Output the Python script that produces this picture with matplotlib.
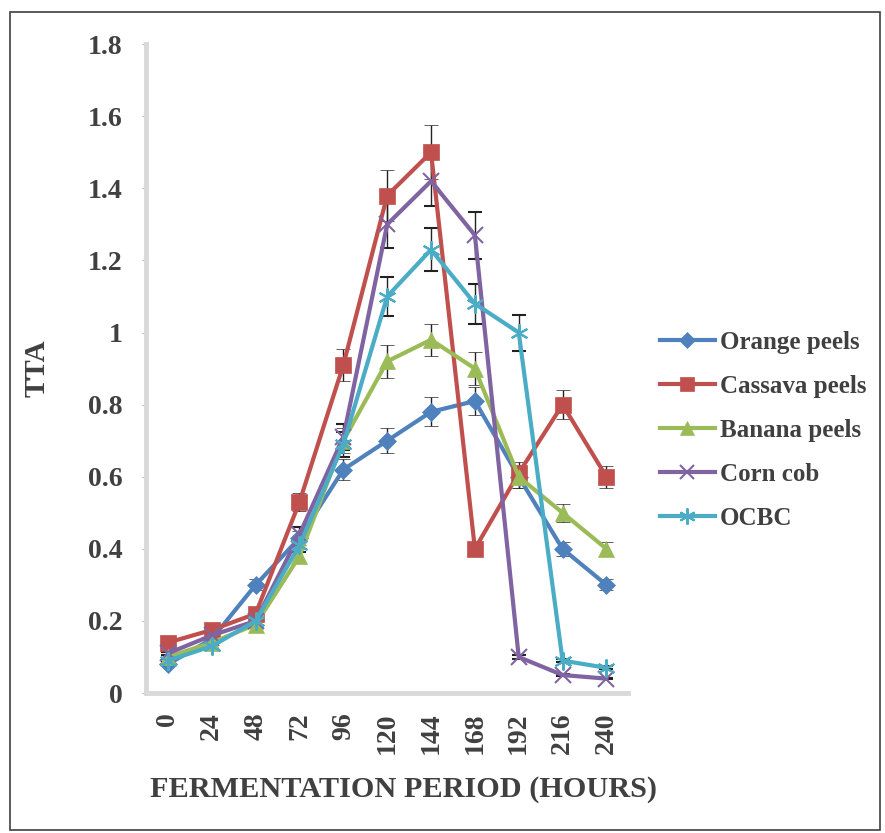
import numpy as np
import matplotlib
matplotlib.use("Agg")
import matplotlib.pyplot as plt
from matplotlib.patches import Rectangle

# fermentation time points (hours)
hours = ["0", "24", "48", "72", "96", "120", "144", "168", "192", "216", "240"]

orange = [0.08, 0.15, 0.30, 0.43, 0.62, 0.70, 0.78, 0.81, 0.60, 0.40, 0.30]
cassava = [0.14, 0.175, 0.22, 0.53, 0.91, 1.38, 1.50, 0.40, 0.61, 0.80, 0.60]
banana = [0.10, 0.14, 0.19, 0.38, 0.70, 0.92, 0.98, 0.90, 0.60, 0.50, 0.40]
corn = [0.11, 0.16, 0.20, 0.44, 0.71, 1.30, 1.42, 1.27, 0.10, 0.05, 0.04]
ocbc = [0.09, 0.13, 0.20, 0.41, 0.69, 1.10, 1.23, 1.08, 1.00, 0.09, 0.07]

orange_err = [0.005, 0.008, 0.015, 0.02, 0.03, 0.035, 0.04, 0.04, 0.03, 0.02, 0.015]
cassava_err = [0.007, 0.009, 0.011, 0.025, 0.045, 0.07, 0.075, 0.02, 0.03, 0.04, 0.03]
banana_err = [0.005, 0.007, 0.01, 0.02, 0.035, 0.045, 0.045, 0.045, 0.03, 0.025, 0.02]
corn_err = [0.005, 0.008, 0.01, 0.02, 0.035, 0.065, 0.07, 0.065, 0.005, 0.003, 0.002]
ocbc_err = [0.005, 0.007, 0.01, 0.02, 0.035, 0.055, 0.06, 0.055, 0.05, 0.005, 0.004]

names = ["Orange peels", "Cassava peels", "Banana peels", "Corn cob", "OCBC"]
colors = ["#4F81BD", "#C0504D", "#9BBB59", "#8064A2", "#4BACC6"]
markers = ["D", "s", "^", "x", (6, 2, 0)]
msizes = [9, 11, 11, 11, 13]

yticks = [0, 0.2, 0.4, 0.6, 0.8, 1.0, 1.2, 1.4, 1.6, 1.8]
ytick_labels = ["0", "0.2", "0.4", "0.6", "0.8", "1", "1.2", "1.4", "1.6", "1.8"]

plt.rcParams["font.family"] = "Liberation Serif"
plt.rcParams["font.weight"] = "bold"
plt.rcParams["axes.labelweight"] = "bold"
txt = "#404040"

fig = plt.figure(figsize=(8.85, 8.33), dpi=100)
ax = fig.add_axes([0.165, 0.168, 0.545, 0.779])

x = np.arange(len(hours))
series = [orange, cassava, banana, corn, ocbc]
errs = [orange_err, cassava_err, banana_err, corn_err, ocbc_err]
for vals, err, name, c, m, ms in zip(series, errs, names, colors, markers, msizes):
    ax.errorbar(x, vals, yerr=err, color=c, lw=3, marker=m, ms=ms,
                mew=1.5 if m in ("x", (6, 2, 0)) else 0.5, mec=c,
                ecolor="#222222", elinewidth=1, capsize=5, capthick=1,
                label=name)

ax.set_xlim(-0.5, 10.5)
ax.set_ylim(0, 1.8)
ax.set_xticks(x)
ax.set_xticklabels(hours, rotation=90, va="top", ha="center")
ax.set_yticks(yticks)
ax.set_yticklabels(ytick_labels)
ax.tick_params(axis="both", labelsize=20, colors=txt, labelcolor=txt)
ax.tick_params(axis="y", length=3, color="#bfbfbf", pad=14)
ax.tick_params(axis="x", length=0, pad=14)

for s in ["top", "right"]:
    ax.spines[s].set_visible(False)
for s in ["left", "bottom"]:
    ax.spines[s].set_color("#d9d9d9")
    ax.spines[s].set_linewidth(3.5)

ax.set_ylabel("TTA", fontsize=21, color=txt, labelpad=27)
ax.set_xlabel("FERMENTATION PERIOD (HOURS)", fontsize=21.8, color=txt, labelpad=16)
ax.xaxis.label.set_x(0.533)

# legend without error bars
handles = [plt.Line2D([], [], color=c, lw=3, marker=m, ms=ms * 0.9,
                      mew=1.5 if m in ("x", (6, 2, 0)) else 0.5)
           for c, m, ms in zip(colors, markers, msizes)]
ax.legend(handles, names, loc="center left", bbox_to_anchor=(1.018, 0.405),
          frameon=False, fontsize=18, labelcolor=txt, handlelength=2.2,
          handletextpad=0.2, labelspacing=0.84)

fig.patches.append(Rectangle((0.011, 0.004), 0.983, 0.982, transform=fig.transFigure,
                             fill=False, edgecolor="#404040", lw=1.2))

fig.savefig("out.png", dpi=100)
